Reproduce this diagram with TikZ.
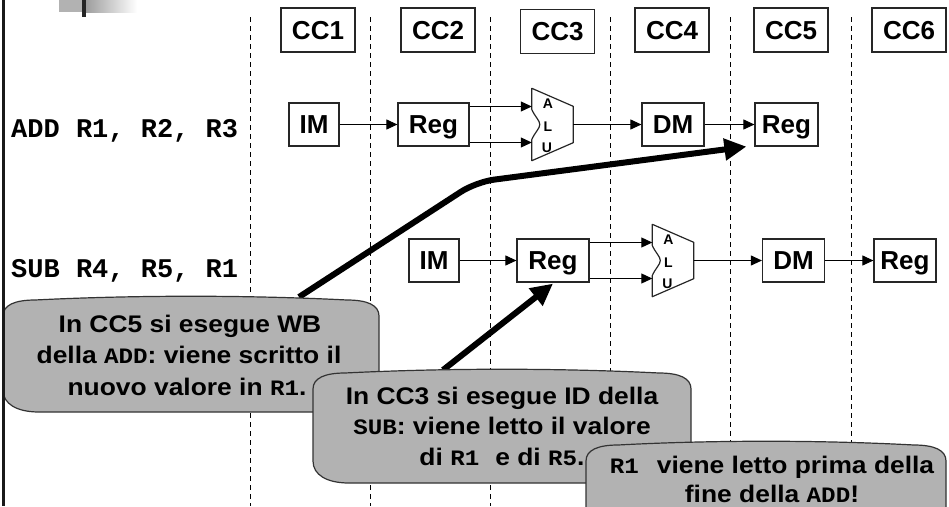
\documentclass[tikz,border=0pt]{standalone}
\usepackage{fontspec}
\setmainfont{Liberation Sans}
\newfontfamily\codefont{Liberation Mono}
\newfontfamily\notefont{Liberation Sans}[FakeStretch=1.1]
\newfontfamily\notecode{Liberation Mono}[FakeStretch=1.1]
\usetikzlibrary{arrows.meta,calc}
\definecolor{bubblegray}{RGB}{178,178,178}
\newcommand{\ncode}[1]{{\notecode\bfseries\fontsize{22}{22}\selectfont #1}}

\tikzset{
  unitbox/.style={draw=black!85, line width=1.2pt, inner sep=0pt, minimum height=43pt,
    font=\fontsize{26}{26}\selectfont\bfseries, text height=18.6pt, text depth=0pt},
  ccbox/.style={draw=black!85, line width=1.2pt, inner sep=0pt, minimum width=74pt,
    minimum height=44pt, font=\fontsize{26}{26}\selectfont\bfseries, text height=18.6pt, text depth=0pt},
  aluframe/.style={inner sep=0pt, minimum width=41pt, minimum height=72pt},
  alushape/.style={draw=black!85, line width=1.2pt, line join=round},
  alutext/.style={inner sep=0pt, font=\fontsize{14}{14}\selectfont\bfseries},
  flow/.style={line width=1pt, -{Triangle[length=11pt,width=10pt]}},
  clock/.style={line width=0.9pt, dash pattern=on 5pt off 4pt},
  instr/.style={anchor=base west, inner sep=0pt, font=\codefont\bfseries\fontsize{27}{27}\selectfont},
  bubble/.style={fill=bubblegray, draw=black!80, line width=1.2pt},
  noteline/.style={anchor=base, inner sep=0pt, font=\notefont\bfseries\fontsize{24}{24}\selectfont},
  pointer/.style={line width=6pt, line join=round, -{Triangle[length=22pt,width=21pt]}},
  bubble shape/.style n args={4}{insert path={
    (#1,#4-22) -- (#1,#3+20)
    .. controls (#1,#3+9) and (#1+12,#3+4) .. (#1+32,#3+4)
    .. controls ({#1+(#2-#1)*0.35},#3-1) and ({#2-(#2-#1)*0.35},#3-1) .. (#2-32,#3+4)
    .. controls (#2-12,#3+4) and (#2,#3+9) .. (#2,#3+20)
    -- (#2,#4-22)
    .. controls (#2,#4-8) and (#2-14,#4) .. (#2-36,#4)
    -- (#1+36,#4)
    .. controls (#1+14,#4) and (#1,#4-8) .. (#1,#4-22) -- cycle}}
}

\begin{document}
\begin{tikzpicture}[x=1pt,y=-1pt]
\useasboundingbox (0,0) rectangle (949,506);
\clip (0,0) rectangle (949,506);

% title bar fragment, top left
\fill[black!30] (59,0) rectangle (82,12);
\shade[left color=black!38, right color=white] (86,0) rectangle (137,12);
\fill[black!85] (82,0) rectangle (86,17);

% clock cycle boundaries
\foreach \x in {250,370,490,610,730,851}
  \draw[clock] (\x,17) -- (\x,506);

% clock cycle headers
\node[ccbox] (cc1) at (318,30) {CC1};
\node[ccbox] (cc2) at (438,30) {CC2};
\node[ccbox] (cc3) at (557.5,31.5) {CC3};
\node[ccbox] (cc4) at (672,30) {CC4};
\node[ccbox] (cc5) at (791,30) {CC5};
\node[ccbox] (cc6) at (909,30) {CC6};

% instruction labels
\node[instr] (addlbl) at (11,137) {ADD R1, R2, R3};
\node[instr] (sublbl) at (11,277) {SUB R4, R5, R1};

% pipeline of ADD
\node[unitbox, minimum width=50pt] (im1) at (314,124.5) {IM};
\node[unitbox, minimum width=71pt] (reg1) at (433.5,124.5) {Reg};
\node[aluframe] (alu1) at (552.5,124.5) {};
\node[unitbox, minimum width=62pt] (dm1) at (673,124.5) {DM};
\node[unitbox, minimum width=63pt] (wb1) at (786.5,124.5) {Reg};

% pipeline of SUB
\node[unitbox, minimum width=50pt] (im2) at (434,260.5) {IM};
\node[unitbox, minimum width=72pt] (reg2) at (553,260.5) {Reg};
\node[aluframe] (alu2) at (673,260.5) {};
\node[unitbox, minimum width=62pt] (dm2) at (793.5,260.5) {DM};
\node[unitbox, minimum width=62pt] (wb2) at (905,260.5) {Reg};

% ALU outlines with notched input side
\foreach \a in {alu1,alu2}{
  \draw[alushape] (\a.north west) -- ($(\a.north east)+(0,18)$) -- ($(\a.south east)+(0,-18)$)
    -- (\a.south west) -- ($(\a.west)+(0,15)$)
    .. controls ($(\a.west)+(3,8)$) and ($(\a.west)+(8,4)$) .. ($(\a.west)+(8,0)$)
    .. controls ($(\a.west)+(8,-4)$) and ($(\a.west)+(3,-8)$) .. ($(\a.west)+(0,-15)$)
    -- cycle;
  \node[alutext] (\a A) at ($(\a.west)+(16,-21)$) {A};
  \node[alutext] (\a L) at ($(\a.west)+(16,2)$) {L};
  \node[alutext] (\a U) at ($(\a.west)+(15,23)$) {U};
}

% datapath connections
\foreach \im/\rg/\al/\dm/\wb in {im1/reg1/alu1/dm1/wb1, im2/reg2/alu2/dm2/wb2}{
  \draw[flow] (\im) -- (\rg);
  \draw[flow] ($(\rg.east)+(0,-18)$) -- ($(\al.west)+(0,-18)$);
  \draw[flow] ($(\rg.east)+(0,18)$) -- ($(\al.west)+(0,18)$);
  \draw[flow] (\al.east) -- (\dm);
  \draw[flow] (\dm) -- (\wb);
}

% pointers from the notes
\coordinate (wbfrom) at (299,297);
\coordinate (wbbend) at (476,182);
\coordinate (idfrom) at (443,370);
\draw[pointer, rounded corners=18pt] (wbfrom) -- (wbbend) -- ($(wb1.south west)+(-8,0)$);
\draw[pointer] (idfrom) -- ($(reg2.south)+(0,1)$);

% notes
\path[bubble, bubble shape={3}{379}{296}{412}];
\node[noteline] (n1a) at (190,332) {In CC5 si esegue WB};
\node[noteline] (n1b) at (189,363.5) {della \ncode{ADD}: viene scritto il};
\node[noteline] (n1c) at (187,395) {nuovo valore in \ncode{R1}.};

\path[bubble, bubble shape={313}{691}{369}{483}];
\node[noteline] (n2a) at (502,404) {In CC3 si esegue ID della};
\node[noteline] (n2b) at (502,434.5) {\ncode{SUB}: viene letto il valore};
\node[noteline] (n2c) at (502,465) {di \ncode{R1}\hspace{16pt}e di \ncode{R5}.};

\path[bubble, bubble shape={586}{946}{441}{545}];
\node[noteline] (n3a) at (772,473) {\ncode{R1}\hspace{18pt}viene letto prima della};
\node[noteline] (n3b) at (772,502) {fine della \ncode{ADD}!};

% slide frame on the left
\draw[line width=2.5pt, black!90] (3.5,0) -- (3.5,506);
\end{tikzpicture}
\end{document}
